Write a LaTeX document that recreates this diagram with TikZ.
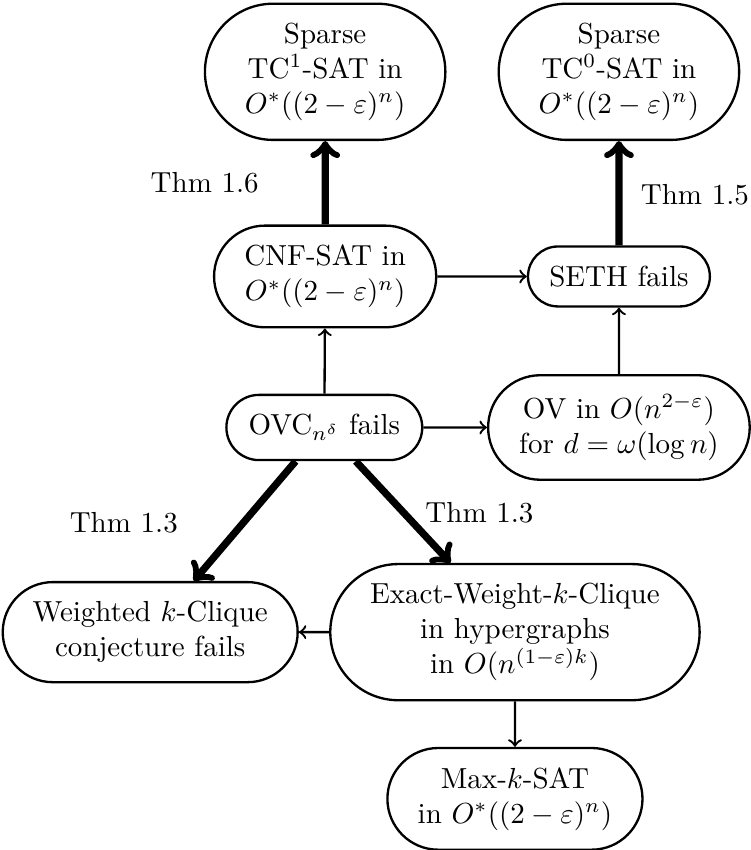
\documentclass[tikz,border=0pt]{standalone}
\usepackage{amsmath, amssymb}
\usepackage{tikz}
\usetikzlibrary{shapes.misc}

\begin{document}
\begin{tikzpicture}[
    every node/.style={font=\normalsize},
    box/.style={rounded rectangle, draw, thick, align=center, inner sep=6.7pt},
    weak/.style={->, thick},
    strong/.style={->, line width=2.5pt},
  ]
    \useasboundingbox (0, 0) rectangle (9.10, -10.30);

    % 上层：两个稀疏电路问题
    \node[box] (tcone)  at (3.94, -0.87) {Sparse\\ TC$^1$-SAT in\\ $O^*((2-\varepsilon)^n)$};
    \node[box] (tczero) at (7.50, -0.87) {Sparse\\ TC$^0$-SAT in\\ $O^*((2-\varepsilon)^n)$};

    % 中层
    \node[box] (cnf)  at (3.94, -3.35) {CNF-SAT in\\ $O^*((2-\varepsilon)^n)$};
    \node[box] (seth) at (7.50, -3.35) {SETH fails};
    \node[box] (ovc)  at (3.93, -5.18) {OVC$_{n^\delta}$ fails};
    \node[box] (ov)   at (7.50, -5.18) {OV in $O(n^{2-\varepsilon})$\\ for $d = \omega(\log n)$};

    % 下层
    \node[box] (wclique) at (1.82, -7.66) {Weighted $k$-Clique\\ conjecture fails};
    \node[box] (exact)   at (6.24, -7.66) {Exact-Weight-$k$-Clique\\ in hypergraphs\\ in $O(n^{(1-\varepsilon)k})$};
    \node[box] (maxsat)  at (6.24, -9.68) {Max-$k$-SAT\\ in $O^*((2-\varepsilon)^n)$};

    % 定理标签
    \node (thmsix)   at (2.48, -2.22) {Thm 1.6};
    \node (thmfive)  at (8.42, -2.36) {Thm 1.5};
    \node (thmleft)  at (1.50, -6.33) {Thm 1.3};
    \node (thmright) at (5.81, -6.21) {Thm 1.3};

    % 粗箭头
    \draw[strong] (cnf) -- (tcone);
    \draw[strong] (seth) -- (tczero);
    \draw[strong] (ovc) -- (wclique);
    \draw[strong] (ovc) -- (exact);

    % 细箭头
    \draw[weak] (cnf) -- (seth);
    \draw[weak] (ovc) -- (cnf);
    \draw[weak] (ovc) -- (ov);
    \draw[weak] (ov) -- (seth);
    \draw[weak] (exact) -- (wclique);
    \draw[weak] (exact) -- (maxsat);
  \end{tikzpicture}
\end{document}
